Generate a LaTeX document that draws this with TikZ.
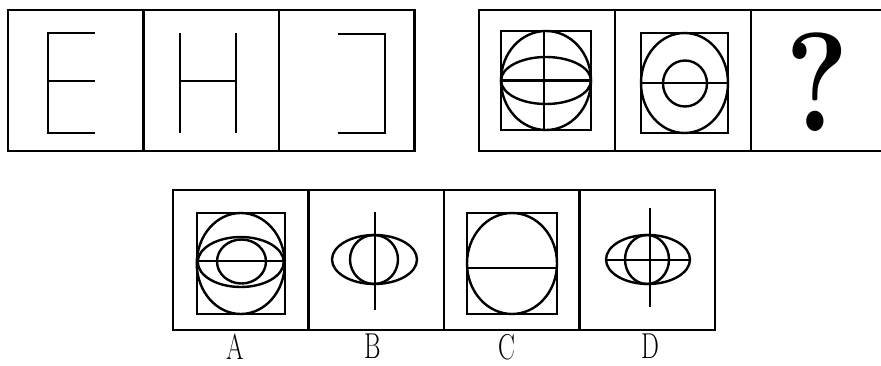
\documentclass[tikz,border=0pt]{standalone}
\usepackage{graphicx}
\usetikzlibrary{positioning}

\begin{document}
\begin{tikzpicture}[
    x=1pt, y=-1pt,
    cell/.style={draw, line width=2.6pt, minimum width=135.5pt, minimum height=141pt,
                 inner sep=0pt, outer sep=0pt},
    fig/.style={line width=2.4pt},
    choice/.style={anchor=north, inner sep=0pt, font=\fontsize{36}{36}\selectfont},
    node distance=0pt
  ]
    \useasboundingbox (0,0) rectangle (881,366);

    \node[cell] (t1) at (75.75,80.5) {};
    \node[cell, right=of t1] (t2) {};
    \node[cell, right=of t2] (t3) {};

    \node[cell, minimum width=136pt] (r1) at (547,80.5) {};
    \node[cell, minimum width=136pt, right=of r1] (r2) {};
    \node[cell, minimum width=136pt, right=of r2] (r3) {};

    \node[cell, minimum height=140pt] (a) at (240.75,260) {};
    \node[cell, minimum height=140pt, right=of a] (b) {};
    \node[cell, minimum height=140pt, right=of b] (c) {};
    \node[cell, minimum height=140pt, right=of c] (d) {};

    \begin{scope}[shift={(t1.center)}, fig]
      \draw (19,-47.5) -- (-28,-47.5) -- (-28,52.5) -- (19,52.5);
      \draw (-28,0.5) -- (19,0.5);
    \end{scope}
    \begin{scope}[shift={(t2.center)}, fig]
      \draw (-31,-47.5) -- (-31,52.5);
      \draw (25,-47.5) -- (25,52.5);
      \draw (-31,0.5) -- (25,0.5);
    \end{scope}
    \begin{scope}[shift={(t3.center)}, fig]
      \draw (-9,-46.5) -- (38,-46.5) -- (38,52.5) -- (-9,52.5);
    \end{scope}

    \begin{scope}[shift={(r1.center)}, fig]
      \draw (-46,-49.5) rectangle (44,49.5);
      \draw (-1,0) ellipse [x radius=45, y radius=49.5];
      \draw (-1,0) ellipse [x radius=45, y radius=23.5];
      \draw (-3,-49.5) -- (-3,49.5);
      \draw (-46,0) -- (44,0);
    \end{scope}
    \begin{scope}[shift={(r2.center)}, fig]
      \draw (-42,-47.5) rectangle (45,52.5);
      \draw (1.5,2.5) ellipse [x radius=43.5, y radius=50];
      \draw (2,3) ellipse [x radius=22, y radius=23];
      \draw (-42,2.5) -- (45,2.5);
    \end{scope}
    \node[inner sep=0pt, font=\fontsize{141}{141}\selectfont\bfseries] (q) at (817,82.5)
      {\scalebox{0.85}[1]{?}};

    \begin{scope}[shift={(a.center)}, fig]
      \draw (-44,-47) rectangle (44,54);
      \draw (0,3.5) ellipse [x radius=44, y radius=50.5];
      \draw (0,2) ellipse [x radius=43, y radius=25];
      \draw (0.75,1.5) ellipse [x radius=24.5, y radius=22];
      \draw (-44,1) -- (44,1);
    \end{scope}
    \begin{scope}[shift={(b.center)}, fig]
      \draw (-1.75,-0.5) ellipse [x radius=42.5, y radius=24.5];
      \draw (-2.25,-0.5) ellipse [x radius=24, y radius=24.5];
      \draw (-1.25,-48) -- (-1.25,50);
    \end{scope}
    \begin{scope}[shift={(c.center)}, fig]
      \draw (-44.75,-47) rectangle (45.25,54);
      \draw (0.25,3.5) ellipse [x radius=45, y radius=50.5];
      \draw (-44.75,8) -- (45.25,8);
    \end{scope}
    \begin{scope}[shift={(d.center)}, fig]
      \draw (0.75,-0.5) ellipse [x radius=42, y radius=24.5];
      \draw (-0.25,-0.5) ellipse [x radius=22, y radius=24.5];
      \draw (2.75,-52) -- (2.75,47);
      \draw (-41.25,0) -- (42.75,0);
    \end{scope}

    \node[choice] (la) at (235,334) {\scalebox{0.7}[1]{A}};
    \node[choice] (lb) at (373,334) {\scalebox{0.7}[1]{B}};
    \node[choice] (lc) at (507,334) {\scalebox{0.7}[1]{C}};
    \node[choice] (ld) at (650,334) {\scalebox{0.7}[1]{D}};
  \end{tikzpicture}
\end{document}
